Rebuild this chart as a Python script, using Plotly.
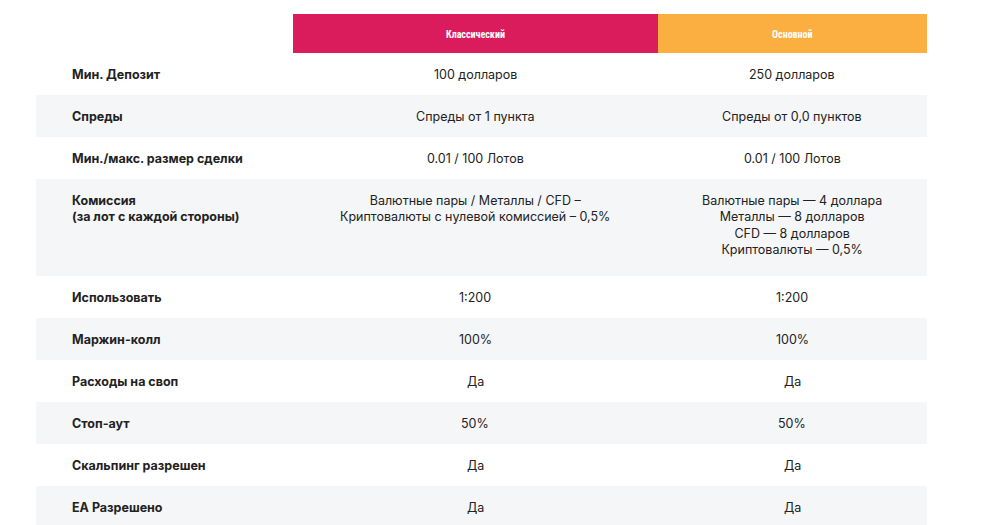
import plotly.graph_objects as go

headers = ["Классический", "Основной"]
header_colors = ["#DA1C5C", "#FBAF41"]
labels = ["Мин. Депозит", "Спреды", "Мин./макс. размер сделки",
          "Комиссия<br>(за лот с каждой стороны)", "Использовать", "Маржин-колл",
          "Расходы на своп", "Стоп-аут", "Скальпинг разрешен", "EA Разрешено"]
classic = ["100 долларов", "Спреды от 1 пункта", "0.01 / 100 Лотов",
           "Валютные пары / Металлы / CFD –<br>Криптовалюты с нулевой комиссией – 0,5%",
           "1:200", "100%", "Да", "50%", "Да", "Да"]
basic = ["250 долларов", "Спреды от 0,0 пунктов", "0.01 / 100 Лотов",
         "Валютные пары — 4 доллара<br>Металлы — 8 долларов<br>CFD — 8 долларов<br>Криптовалюты — 0,5%",
         "1:200", "100%", "Да", "50%", "Да", "Да"]
row_heights = [42, 42, 42, 97, 42, 42, 42, 42, 42, 42]

W, H = 981, 525
OFF = 8  # page body margin
fig = go.Figure()
shapes, ann = [], []
font = dict(family="Inter, Roboto, sans-serif", size=12.5, color="#222")

# header
col_edges = [293 - OFF, 658 - OFF, 927 - OFF]
for i, h in enumerate(headers):
    shapes.append(dict(type="rect", x0=col_edges[i], x1=col_edges[i + 1], y0=14 - OFF, y1=53 - OFF,
                       fillcolor=header_colors[i], line_width=0, layer="below"))
    ann.append(dict(x=(col_edges[i] + col_edges[i + 1]) / 2, y=34 - OFF, text="<b>" + h + "</b>",
                    showarrow=False, font=dict(family="Roboto Condensed, Roboto, sans-serif",
                                               size=10, color="white")))

y = 53 - OFF
for i, lab in enumerate(labels):
    hgt = row_heights[i]
    if i % 2 == 1:
        shapes.append(dict(type="rect", x0=36 - OFF, x1=927 - OFF, y0=y, y1=y + hgt,
                           fillcolor="#F5F6F8", line_width=0, layer="below"))
    single = hgt < 60
    ty = y + hgt / 2 if single else y + 12
    ya = "middle" if single else "top"
    txt = [lab, classic[i], basic[i]]
    if not single:
        txt = [t.replace("<br>", "<br><span style='font-size:1px'> </span><br>") if False else t for t in txt]
    ann.append(dict(x=70 - OFF, y=ty, text="<b>" + txt[0] + "</b>", showarrow=False,
                    xanchor="left", yanchor=ya, align="left", font=font))
    ann.append(dict(x=475 - OFF, y=ty, text=txt[1], showarrow=False,
                    yanchor=ya, align="center", font=font))
    ann.append(dict(x=792 - OFF, y=ty, text=txt[2], showarrow=False,
                    yanchor=ya, align="center", font=font))
    y += hgt

fig.update_layout(width=W, height=H, margin=dict(l=0, r=0, t=0, b=0),
                  plot_bgcolor="white", paper_bgcolor="white",
                  shapes=shapes, annotations=ann, showlegend=False,
                  xaxis=dict(range=[0, W], visible=False, fixedrange=True),
                  yaxis=dict(range=[H, 0], visible=False, fixedrange=True))
fig.write_html("out.html")
